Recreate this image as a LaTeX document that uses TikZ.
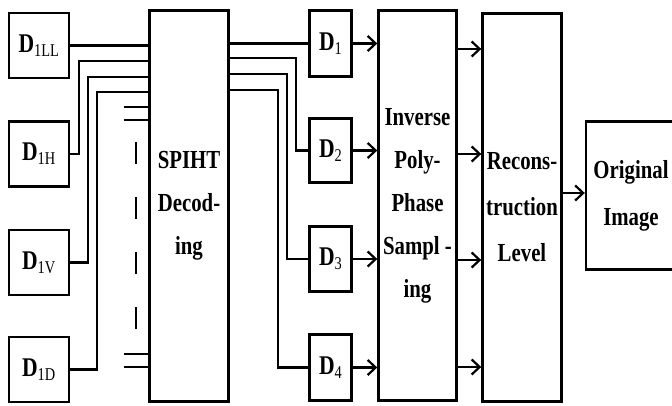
\documentclass[tikz,border=0pt]{standalone}
\usepackage{fontspec}
\setmainfont{Liberation Serif}[FakeStretch=0.8]
\usetikzlibrary{arrows.meta}
\usetikzlibrary{calc}
\tikzset{block/.style={draw=black, line width=2.4pt, inner sep=0pt, align=center,
    font=\bfseries\fontsize{26}{43}\selectfont}}
\tikzset{dbox/.style={block, minimum width=60pt, minimum height=65pt,
    font=\bfseries\fontsize{27}{30}\selectfont}}
\tikzset{wire/.style={line width=2.2pt}}
\tikzset{arrow/.style={wire, -{Straight Barb[length=8pt,width=15pt,line width=2.2pt]}}}
\newcommand{\dsub}[1]{D\raisebox{-4pt}{\mdseries\fontsize{18}{18}\selectfont #1}}

\begin{document}
\begin{tikzpicture}[x=1pt, y=-1pt]
        \useasboundingbox (0,0) rectangle (672,405);

        % inputs
        \node[dbox] (d1ll) at (38.7,45.5) {\dsub{1LL}};
        \node[dbox] (d1h) at (38.7,154) {\dsub{1H}};
        \node[dbox] (d1v) at (38.7,262.5) {\dsub{1V}};
        \node[dbox] (d1d) at (38.7,369.5) {\dsub{1D}};

        \node[block, minimum width=79pt, minimum height=391pt] (spiht) at (189,206)
            {SPIHT\\Decod-\\ing};

        \node[dbox, minimum width=42pt, minimum height=66pt] (d1) at (330.5,43.5) {\dsub{1}};
        \node[dbox, minimum width=42pt, minimum height=64pt] (d2) at (330.5,150.5) {\dsub{2}};
        \node[dbox, minimum width=42pt, minimum height=65pt] (d3) at (330.5,259) {\dsub{3}};
        \node[dbox, minimum width=42pt, minimum height=66pt] (d4) at (330.5,367.5) {\dsub{4}};

        \node[block, minimum width=78pt, minimum height=390pt] (inv) at (417.5,205.5)
            {Inverse\\Poly-\\Phase\\Sampl -\\ing};
        \node[block, minimum width=79pt, minimum height=388pt,
            font=\bfseries\fontsize{26}{46}\selectfont] (rec) at (522,207.5)
            {Recons-\\truction\\Level};
        \node[block, minimum width=90pt, minimum height=148pt,
            font=\bfseries\fontsize{26}{47}\selectfont] (orig) at (631,195.5)
            {Original\\Image};

        % wires into the decoder
        \draw[wire] (d1ll) -- (spiht.west |- d1ll);
        \draw[wire] (d1h.east) -- ++(9,0) |- (spiht.west |- 0,61);
        \draw[wire] (d1v.east) -- ++(18,0) |- (spiht.west |- 0,76.7);
        \draw[wire] (d1d.east) -- ++(27,0) |- (spiht.west |- 0,92.3);

        \coordinate (s1) at (123.5,107.3);
        \coordinate (s2) at (123.5,120);
        \coordinate (s3) at (123.5,354);
        \coordinate (s4) at (123.5,367);
        \draw[wire] (s1) -- (spiht.west |- s1);
        \draw[wire] (s2) -- (spiht.west |- s2);
        \draw[wire] (s3) -- (spiht.west |- s3);
        \draw[wire] (s4) -- (spiht.west |- s4);
        \coordinate (dtop) at (136,142);
        \coordinate (dbot) at (136,329);
        \draw[wire, dash pattern=on 22pt off 33pt] (dtop) -- (dbot);

        % wires out of the decoder
        \draw[wire] (spiht.east |- d1) -- (d1);
        \draw[wire] (d2.west) -- ++(-12,0) |- (spiht.east |- 0,58.3);
        \draw[wire] (d3.west) -- ++(-21.5,0) |- (spiht.east |- 0,74);
        \draw[wire] (d4.west) -- ++(-30,0) |- (spiht.east |- 0,90);

        \draw[arrow] (d1) -- (inv.west |- d1);
        \draw[arrow] (d2) -- (inv.west |- d2);
        \draw[arrow] (d3) -- (inv.west |- d3);
        \draw[arrow] (d4) -- (inv.west |- d4);

        \draw[arrow] (inv.east |- 0,49) -- (rec.west |- 0,49);
        \draw[arrow] (inv.east |- 0,154) -- (rec.west |- 0,154);
        \draw[arrow] (inv.east |- 0,260) -- (rec.west |- 0,260);
        \draw[arrow] (inv.east |- 0,367) -- (rec.west |- 0,367);

        \draw[arrow] (rec.east |- 0,193) -- (orig.west |- 0,193);
\end{tikzpicture}
\end{document}
